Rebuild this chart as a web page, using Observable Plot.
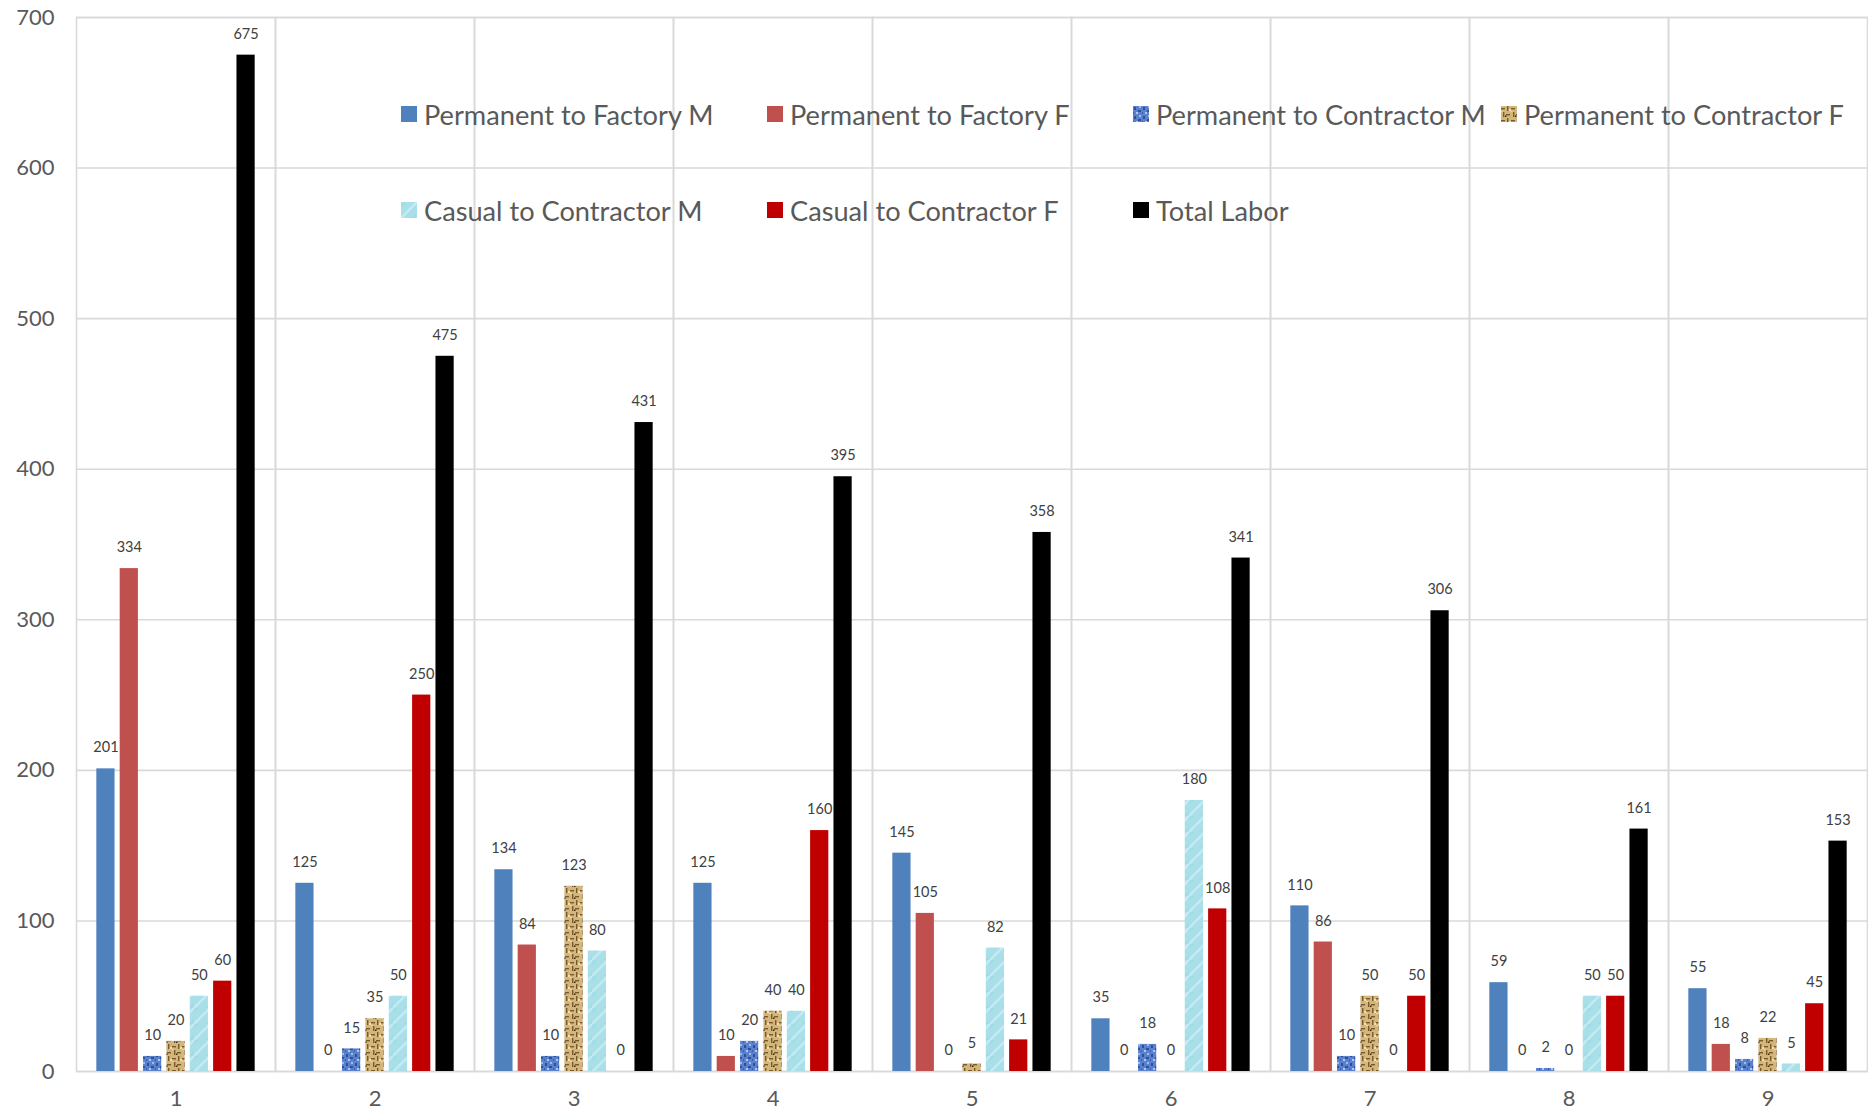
<!DOCTYPE html>
<html>
<head>
<meta charset="utf-8">
<script src="https://cdn.jsdelivr.net/npm/d3@7"></script>
<script src="https://cdn.jsdelivr.net/npm/@observablehq/plot@0.6"></script>
<style>
  html, body { margin: 0; padding: 0; background: #fff; overflow: hidden; }
  #wrap { position: relative; width: 1868px; height: 1112px; font-family: Lato, "Open Sans", sans-serif; }
  #legend { position: absolute; left: 401px; top: 102px; display: grid;
    grid-template-columns: 366px 366px 368px 368px; row-gap: 72px; }
  .item { display: flex; align-items: center; height: 24px; font-size: 27.2px; color: #595959; white-space: nowrap; }
  .item svg { width: 16px; height: 16px; margin-right: 7px; flex: none; }
</style>
</head>
<body>
<div id="wrap"></div>
<script>
const categories = ["1", "2", "3", "4", "5", "6", "7", "8", "9"];
const seriesNames = [
  "Permanent to Factory M",
  "Permanent to Factory F",
  "Permanent to Contractor M",
  "Permanent to Contractor F",
  "Casual to Contractor M",
  "Casual to Contractor F",
  "Total Labor"
];
const permFactoryM      = [201, 125, 134, 125, 145, 35, 110, 59, 55];
const permFactoryF      = [334, 0, 84, 10, 105, 0, 86, 0, 18];
const permContractorM   = [10, 15, 10, 20, 0, 18, 10, 2, 8];
const permContractorF   = [20, 35, 123, 40, 5, 0, 50, 0, 22];
const casualContractorM = [50, 50, 80, 40, 82, 180, 0, 50, 5];
const casualContractorF = [60, 250, 0, 160, 21, 108, 50, 50, 45];
const totalLabor        = [675, 475, 431, 395, 358, 341, 306, 161, 153];
const yTicks = [0, 100, 200, 300, 400, 500, 600, 700];

const seriesValues = [permFactoryM, permFactoryF, permContractorM, permContractorF, casualContractorM, casualContractorF, totalLabor];
const seriesFills = ["#4F81BD", "#C0504D", "url(#pcm)", "url(#pcf)", "url(#ccm)", "#C00000", "#000000"];

const data = [];
categories.forEach((c, i) => {
  seriesNames.forEach((s, j) => {
    data.push({cat: c, series: s, value: seriesValues[j][i], fill: seriesFills[j]});
  });
});

const chart = Plot.plot({
  width: 1868,
  height: 1112,
  marginLeft: 74,
  marginRight: 0,
  marginTop: 17,
  marginBottom: 41,
  style: {fontFamily: "Lato, 'Open Sans', sans-serif", background: "#fff"},
  fx: {domain: categories, padding: 0, label: null, axis: "bottom", tickSize: 0, tickPadding: 19},
  x: {domain: seriesNames, paddingInner: 0.22, paddingOuter: 0.87, round: false, axis: null},
  y: {domain: [0, 700], ticks: yTicks, label: null, tickSize: 0, tickPadding: 22},
  color: {type: "identity"},
  marks: [
    Plot.ruleY(yTicks, {stroke: "#d9d9d9", strokeWidth: 1.6}),
    Plot.frame({stroke: "#d9d9d9", strokeWidth: 1.6}),
    Plot.barY(data, {fx: "cat", x: "series", y: "value", fill: "fill"}),
    Plot.text(data, {fx: "cat", x: "series", y: "value", text: d => String(d.value), dy: -21, fontSize: 14.5, fill: "#404040"})
  ]
});

const svgSel = d3.select(chart);
svgSel.selectAll("g[aria-label='y-axis tick label']").attr("font-size", 22).attr("fill", "#595959");
svgSel.selectAll("g[aria-label='fx-axis tick label']").attr("font-size", 22).attr("fill", "#595959");

const defs = `
<defs>
<pattern id="pcm" width="9" height="9" patternUnits="userSpaceOnUse">
  <rect width="9" height="9" fill="#5a82cc"/>
  <rect x="1" y="1" width="2" height="3" fill="#2f50a0"/>
  <rect x="5" y="4" width="3" height="2" fill="#2f50a0"/>
  <rect x="3" y="6" width="2" height="2" fill="#b0c8f0"/>
  <rect x="6" y="0" width="2" height="2" fill="#9fb9e8"/>
  <rect x="0" y="6" width="1" height="2" fill="#3a5fb0"/>
</pattern>
<pattern id="pcf" width="10" height="12" patternUnits="userSpaceOnUse">
  <rect width="10" height="12" fill="#d3b67c"/>
  <rect x="0" y="2" width="4" height="1.4" fill="#7a5a28"/>
  <rect x="6" y="0" width="1.4" height="5" fill="#7a5a28"/>
  <rect x="5" y="8" width="4" height="1.4" fill="#7a5a28"/>
  <rect x="2" y="6" width="1.4" height="5" fill="#7a5a28"/>
  <rect x="8" y="3" width="2" height="2" fill="#f1e1b2"/>
  <rect x="4" y="9.5" width="1.5" height="1.5" fill="#3d2a10"/>
  <rect x="0" y="5" width="1.5" height="1.2" fill="#f1e1b2"/>
</pattern>
<pattern id="ccm" width="16" height="16" patternUnits="userSpaceOnUse">
  <rect width="16" height="16" fill="#a9dfe9"/>
  <path d="M0,16 L16,0" stroke="#c4ebf2" stroke-width="2.5"/>
  <path d="M-4,8 L8,-4 M8,20 L20,8" stroke="#98d6e2" stroke-width="1"/>
</pattern>
</defs>`;
chart.insertAdjacentHTML("afterbegin", defs);

const wrap = document.getElementById("wrap");
wrap.appendChild(chart);

// Legend overlay
const legend = document.createElement("div");
legend.id = "legend";
seriesNames.forEach((name, j) => {
  const item = document.createElement("div");
  item.className = "item";
  item.innerHTML = `<svg viewBox="0 0 16 16"><rect width="16" height="16" fill="${seriesFills[j]}"/></svg><span>${name}</span>`;
  legend.appendChild(item);
});
wrap.appendChild(legend);
</script>
</body>
</html>
